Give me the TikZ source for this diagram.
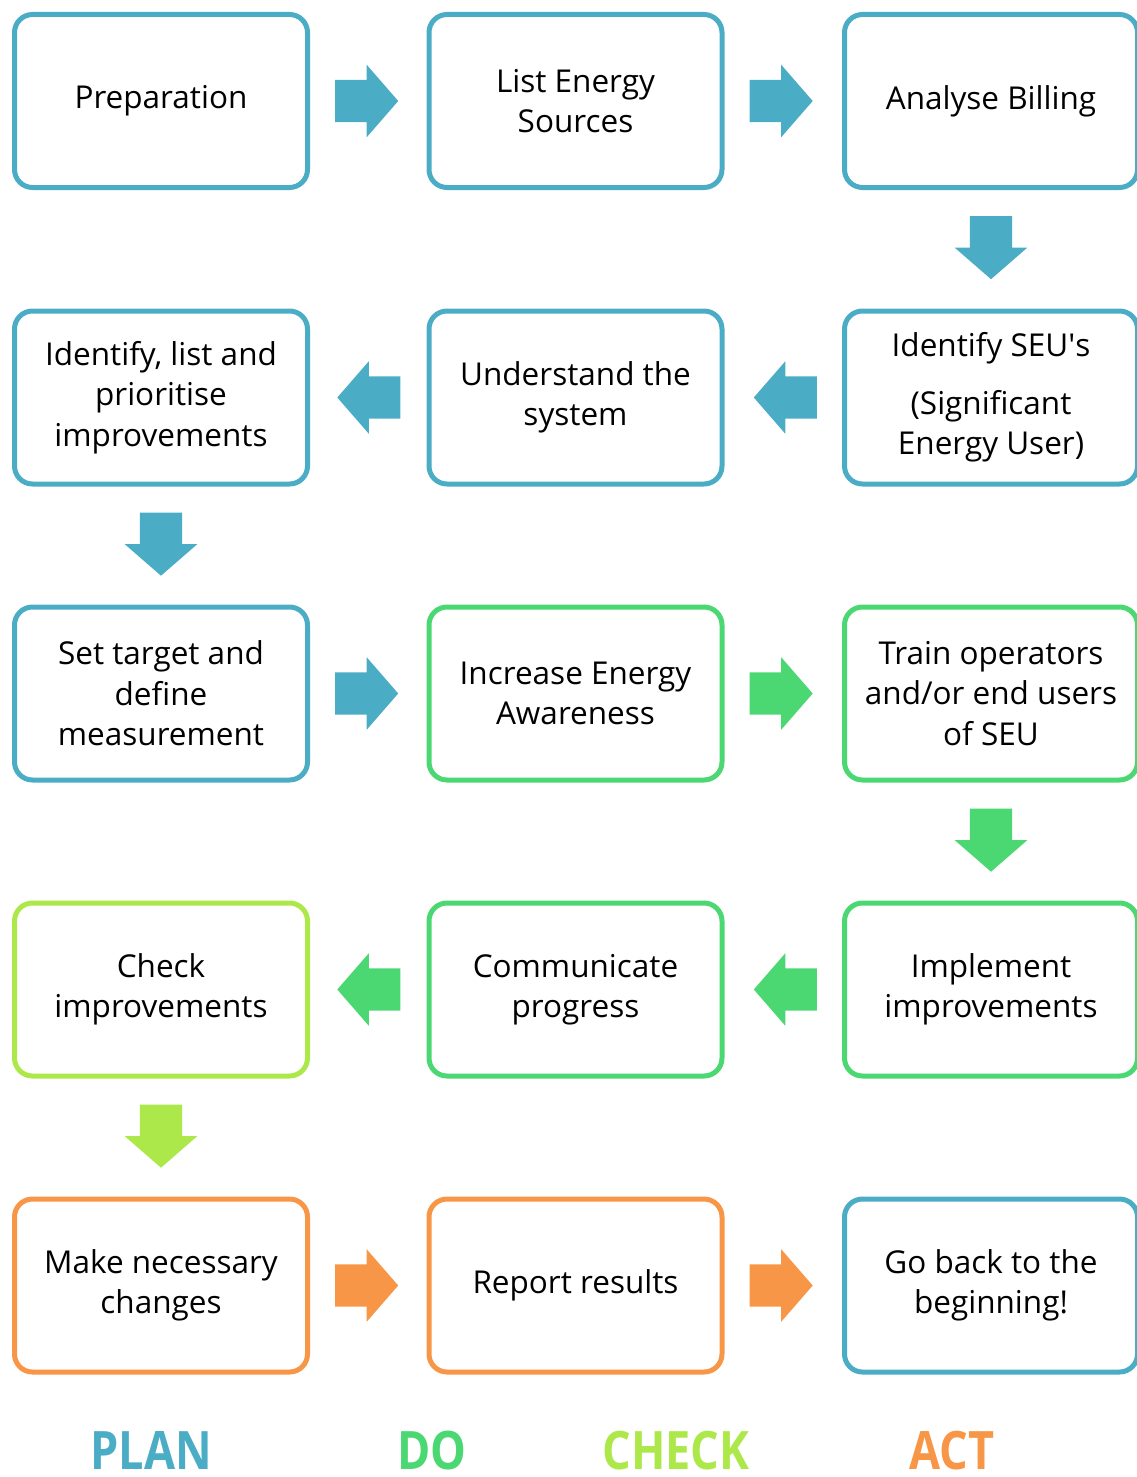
\documentclass[tikz,border=0pt]{standalone}
\usepackage{fontspec}
\setmainfont{Open Sans}
\usetikzlibrary{shapes.arrows, calc}
\definecolor{planblue}{HTML}{4BACC6}
\definecolor{dogreen}{HTML}{4BD873}
\definecolor{checklime}{HTML}{ADE84A}
\definecolor{actorange}{HTML}{F79646}
\tikzset{box/.style = {draw, line width = 5, rounded corners = 18, minimum width = 293, minimum height = 173, align = center, inner sep = 0, font = \fontsize{31.5}{40.5}\selectfont}}
\tikzset{blk/.style = {single arrow, draw = none, anchor = tail, inner xsep = 0, inner ysep = 21, minimum height = 63, minimum width = 72, single arrow head extend = 15, single arrow tip angle = 98}}
\tikzset{phase/.style = {anchor = base, inner sep = 0, font = \fontsize{53}{60}\bfseries\selectfont}}

\begin{document}
\begin{tikzpicture}[x = 1pt, y = 1pt]
    \useasboundingbox (0, 0) rectangle (1137, -1477);
    \begin{scope}
      % boxes
      \node [box, planblue] (prep) at (161, -101) {\color{black}Preparation};
      \node [box, planblue] (sources) at (575.5, -101) {\color{black}List Energy\\\color{black}Sources};
      \node [box, planblue] (billing) at (991, -101) {\color{black}Analyse Billing};

      \node [box, planblue] (prior) at (161, -397.5) {\color{black}Identify, list and\\\color{black}prioritise\\\color{black}improvements};
      \node [box, planblue] (system) at (575.5, -397.5) {\color{black}Understand the\\\color{black}system};
      \node [box, planblue] (seus) at (991, -397.5) {\color{black}Identify SEU\textquotesingle s\\[17pt]\color{black}(Significant\\\color{black}Energy User)};

      \node [box, planblue] (target) at (161, -693.5) {\color{black}Set target and\\\color{black}define\\\color{black}measurement};
      \node [box, dogreen] (aware) at (575.5, -693.5) {\color{black}Increase Energy\\\color{black}Awareness};
      \node [box, dogreen] (train) at (991, -693.5) {\color{black}Train operators\\\color{black}and/or end users\\\color{black}of SEU};

      \node [box, checklime] (checkimp) at (161, -989.5) {\color{black}Check\\\color{black}improvements};
      \node [box, dogreen] (comm) at (575.5, -989.5) {\color{black}Communicate\\\color{black}progress};
      \node [box, dogreen] (implement) at (991, -989.5) {\color{black}Implement\\\color{black}improvements};

      \node [box, actorange] (changes) at (161, -1285.5) {\color{black}Make necessary\\\color{black}changes};
      \node [box, actorange] (report) at (575.5, -1285.5) {\color{black}Report results};
      \node [box, planblue] (goback) at (991, -1285.5) {\color{black}Go back to the\\\color{black}beginning!};

      % block arrows
      \node [blk, fill = planblue] (a1) at ($(prep.east) + (25, 0)$) {};
      \node [blk, fill = planblue] (a2) at ($(sources.east) + (25, 0)$) {};
      \node [blk, fill = planblue, rotate = -90] (a3) at ($(billing.south) + (0, -26)$) {};
      \node [blk, fill = planblue, rotate = 180] (a4) at ($(seus.west) + (-25, 0)$) {};
      \node [blk, fill = planblue, rotate = 180] (a5) at ($(system.west) + (-26, 0)$) {};
      \node [blk, fill = planblue, rotate = -90] (a6) at ($(prior.south) + (0, -26)$) {};
      \node [blk, fill = planblue] (a7) at ($(target.east) + (25, 0)$) {};
      \node [blk, fill = dogreen] (a8) at ($(aware.east) + (25, 0)$) {};
      \node [blk, fill = dogreen, rotate = -90] (a9) at ($(train.south) + (0, -26)$) {};
      \node [blk, fill = dogreen, rotate = 180] (a10) at ($(implement.west) + (-25, 0)$) {};
      \node [blk, fill = dogreen, rotate = 180] (a11) at ($(comm.west) + (-26, 0)$) {};
      \node [blk, fill = checklime, rotate = -90] (a12) at ($(checkimp.south) + (0, -26)$) {};
      \node [blk, fill = actorange] (a13) at ($(changes.east) + (25, 0)$) {};
      \node [blk, fill = actorange] (a14) at ($(report.east) + (25, 0)$) {};

      % phases
      \node [phase, text = planblue] (plan) at (151, -1469) {\scalebox{0.85}[1]{PLAN}};
      \node [phase, text = dogreen] (do) at (432, -1469) {\scalebox{0.85}[1]{DO}};
      \node [phase, text = checklime] (check) at (676, -1469) {\scalebox{0.85}[1]{CHECK}};
      \node [phase, text = actorange] (act) at (952, -1469) {\scalebox{0.85}[1]{ACT}};
    \end{scope}
  \end{tikzpicture}
\end{document}
